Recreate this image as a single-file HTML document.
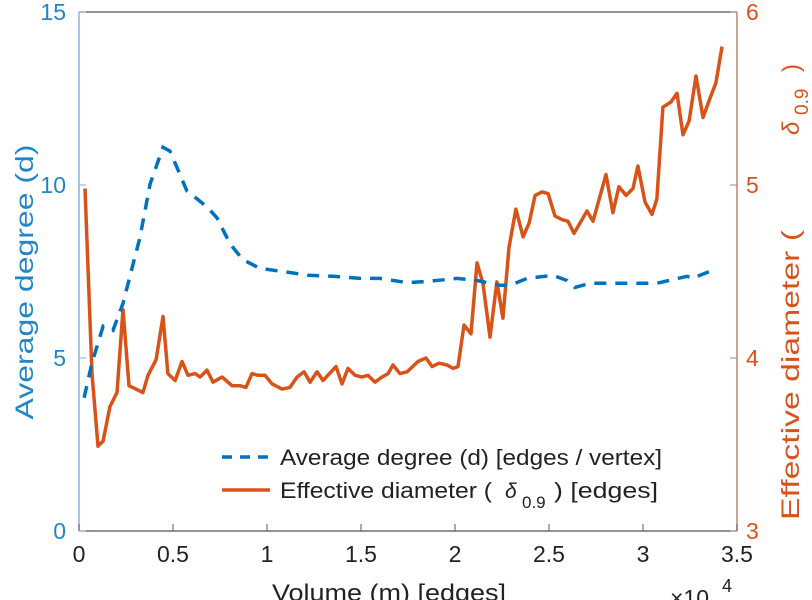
<!DOCTYPE html>
<html><head><meta charset="utf-8"><style>
html,body{margin:0;padding:0;background:#fff;}
svg{display:block;font-family:"Liberation Sans",sans-serif;}
</style></head><body>
<svg id="chart" width="812" height="600" viewBox="0 0 812 600" xmlns="http://www.w3.org/2000/svg">
<g id="axes"></g>
<g id="series"></g>
<g id="legend">
  <line x1="222" y1="457" x2="270" y2="457" stroke="#0072BD" stroke-width="3.5" stroke-dasharray="10,8"/>
  <text x="280" y="465" font-size="22" fill="#222" textLength="382" lengthAdjust="spacingAndGlyphs">Average degree (d) [edges / vertex]</text>
  <line x1="222" y1="490" x2="270" y2="490" stroke="#D95319" stroke-width="3.5"/>
  <text x="280" y="498" font-size="22" fill="#222" textLength="212" lengthAdjust="spacingAndGlyphs">Effective diameter (</text>
  <text x="505" y="498" font-size="21" font-style="italic" fill="#222">δ</text>
  <text x="522" y="508" font-size="17" fill="#222">0.9</text>
  <text x="554" y="498" font-size="22" fill="#222" textLength="104" lengthAdjust="spacingAndGlyphs">) [edges]</text>
</g>
</svg>
<script>
const xTicks = [0, 0.5, 1, 1.5, 2, 2.5, 3, 3.5];
const leftTicks = [0, 5, 10, 15];
const rightTicks = [3, 4, 5, 6];
const degreeX = [0.27,0.69,1.28,1.81,2.34,3.24,3.78,4.47,4.84,5.74,6.81,7.34,8.03,8.72,9.63,11.22,12.18,13.51,14.95,16.01,17.45,18.51,20.11,21.17,22.39,22.93,23.83,25.21,25.96,26.38,27.18,28.78,30.21,30.90,32.34,32.61,33.94];
const degreeY = [3.85,4.86,5.92,5.80,6.58,8.48,10.03,11.09,10.98,9.83,9.37,9.05,8.30,7.84,7.59,7.47,7.39,7.36,7.30,7.30,7.18,7.21,7.30,7.24,7.10,7.10,7.30,7.39,7.24,7.04,7.16,7.16,7.16,7.18,7.36,7.30,7.59];
const diamX = [0.32,0.69,1.01,1.28,1.65,2.02,2.34,2.66,3.40,3.67,
4.10,4.47,4.73,5.11,5.48,5.80,6.17,6.44,6.81,7.13,
7.61,8.14,8.56,8.88,9.20,9.52,9.89,10.27,10.80,11.22,
11.60,11.97,12.29,12.66,12.98,13.67,13.99,14.31,14.68,15.05,
15.37,15.74,16.12,16.44,16.70,17.07,17.45,18.03,18.46,18.78,
19.15,19.57,19.89,20.16,20.48,20.85,21.17,21.49,21.86,22.23,
22.55,22.87,23.24,23.62,23.94,24.26,24.63,24.95,25.32,25.69,
26.01,26.33,27.02,27.34,28.03,28.40,28.72,29.10,29.47,29.73,
30.11,30.48,30.74,31.06,31.49,31.81,32.13,32.45,32.82,33.19,
33.56,33.88,34.20];
const diamY = [4.98,3.91,3.49,3.52,3.72,3.80,4.28,3.84,3.80,3.90,
3.99,4.24,3.91,3.87,3.98,3.90,3.91,3.89,3.93,3.86,
3.89,3.84,3.84,3.83,3.91,3.90,3.90,3.85,3.82,3.83,
3.89,3.92,3.86,3.92,3.87,3.95,3.85,3.94,3.90,3.89,
3.90,3.86,3.89,3.91,3.96,3.91,3.92,3.98,4.00,3.95,
3.97,3.96,3.94,3.95,4.19,4.14,4.55,4.43,4.12,4.44,
4.23,4.64,4.86,4.70,4.78,4.94,4.96,4.95,4.82,4.80,
4.79,4.72,4.85,4.79,5.06,4.84,4.99,4.94,4.98,5.11,
4.90,4.83,4.92,5.45,5.48,5.53,5.29,5.37,5.63,5.39,
5.50,5.59,5.80];

const X0 = 79, X1 = 737, YT = 12, YB = 531;
function sx(v){ return X0 + (v - 0) / 35 * (X1 - X0); } // v in thousands
function syL(v){ return YB - v / 15 * (YB - YT); }
function syR(v){ return YB - (v - 3) / 3 * (YB - YT); }
const NS = "http://www.w3.org/2000/svg";
function mk(tag, attrs, parent, text){
  const e = document.createElementNS(NS, tag);
  for (const k in attrs) e.setAttribute(k, attrs[k]);
  if (text !== undefined) e.textContent = text;
  parent.appendChild(e);
  return e;
}
const axes = document.getElementById('axes');
const series = document.getElementById('series');

let l = mk('line', {x1:X0, y1:YB, x2:X1, y2:YB, stroke:'#555', 'stroke-width':1.2}, axes);


l = mk('line', {x1:X0, y1:YT, x2:X1, y2:YT, stroke:'#555', 'stroke-width':1.2}, axes);


l = mk('line', {x1:X0, y1:YT, x2:X0, y2:YB, stroke:'#7fb6dc', 'stroke-width':1.5}, axes);


l = mk('line', {x1:X1, y1:YT, x2:X1, y2:YB, stroke:'#b5857a', 'stroke-width':1.5}, axes);



xTicks.forEach(t => {
  const x = sx(t * 10);
  const tk = mk('line', {x1:x, y1:YB, x2:x, y2:YB-7, stroke:'#555', 'stroke-width':1}, axes);
  
  
  const tx = mk('text', {x:x, y:562, 'font-size':23, fill:'#222', 'text-anchor':'middle'}, axes, String(t));
  
  
});
leftTicks.forEach(t => {
  const y = syL(t);
  const tk = mk('line', {x1:X0, y1:y, x2:X0+7, y2:y, stroke:'#7fb6dc', 'stroke-width':1}, axes);
  
  
  const tx = mk('text', {x:X0-13, y:y+8, 'font-size':23, fill:'#1f86c8', 'text-anchor':'end'}, axes, String(t));
  
  
});
rightTicks.forEach(t => {
  const y = syR(t);
  const tk = mk('line', {x1:X1, y1:y, x2:X1-7, y2:y, stroke:'#b5857a', 'stroke-width':1}, axes);
  
  
  const tx = mk('text', {x:X1+9, y:y+8, 'font-size':23, fill:'#D95319', 'text-anchor':'start'}, axes, String(t));
  
  
});

let t = mk('text', {x:272, y:601, 'font-size':24, fill:'#222', textLength:234, lengthAdjust:'spacingAndGlyphs'}, axes, 'Volume (m) [edges]');


t = mk('text', {x:670, y:606, 'font-size':23, fill:'#222'}, axes, '×10');


t = mk('text', {x:722, y:592, 'font-size':18, fill:'#222'}, axes, '4');


t = mk('text', {x:0, y:0, 'font-size':25, fill:'#1f86c8', 'text-anchor':'middle', textLength:275, lengthAdjust:'spacingAndGlyphs', transform:'translate(33,282) rotate(-90)'}, axes, 'Average degree (d)');


t = mk('text', {x:0, y:0, 'font-size':25, fill:'#D95319', textLength:290, lengthAdjust:'spacingAndGlyphs', transform:'translate(799,520) rotate(-90)'}, axes, 'Effective diameter (');


t = mk('text', {x:0, y:0, 'font-size':24, fill:'#D95319', 'font-style':'italic', transform:'translate(799,135) rotate(-90)'}, axes, 'δ');


t = mk('text', {x:0, y:0, 'font-size':19, fill:'#D95319', transform:'translate(808,115) rotate(-90)'}, axes, '0.9');


t = mk('text', {x:0, y:0, 'font-size':24, fill:'#D95319', transform:'translate(799,72) rotate(-90)'}, axes, ')');



const dPts = diamX.map((x,i) => sx(x).toFixed(1) + ',' + syR(diamY[i]).toFixed(1)).join(' ');
const dl = mk('polyline', {points:dPts, fill:'none', stroke:'#D95319', 'stroke-width':3.5, 'stroke-linejoin':'round'}, series);


const gPts = degreeX.map((x,i) => sx(x).toFixed(1) + ',' + syL(degreeY[i]).toFixed(1)).join(' ');
const gl = mk('polyline', {points:gPts, fill:'none', stroke:'#0072BD', 'stroke-width':3.5, 'stroke-dasharray':'12,9'}, series);


</script>
</body></html>
